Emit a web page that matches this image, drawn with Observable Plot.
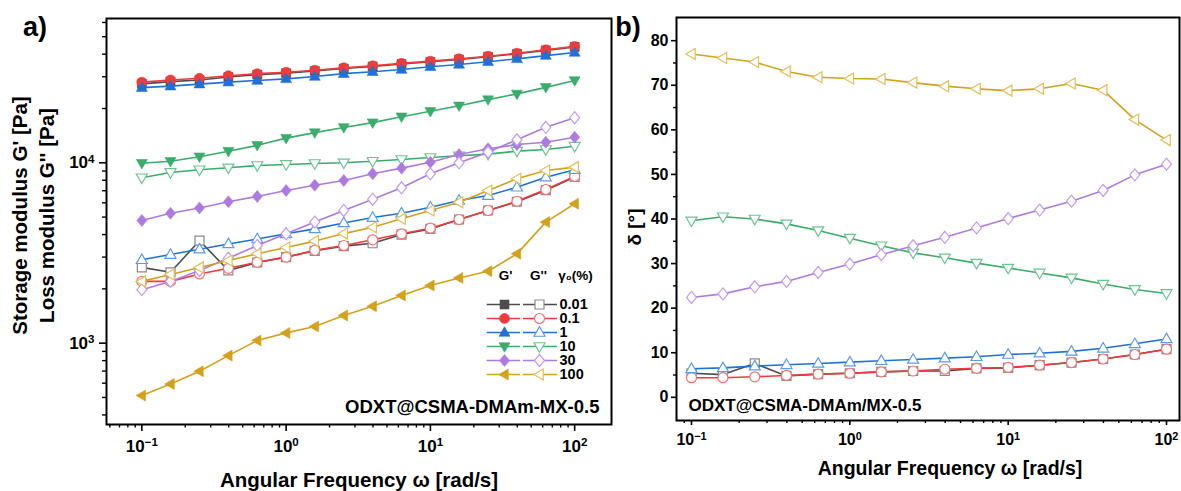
<!DOCTYPE html>
<html><head><meta charset="utf-8">
<script src="https://cdn.jsdelivr.net/npm/d3@7"></script>
<script src="https://cdn.jsdelivr.net/npm/@observablehq/plot@0.6"></script>
<style>
body{margin:0;background:#fff;}
#wrap{position:relative;width:1181px;height:491px;overflow:hidden;font-family:"Liberation Sans",Arial,sans-serif;}
#wrap svg{position:absolute;overflow:visible;}
</style></head><body><div id="wrap"></div>
<script>
// ---- data ----
const freq = [0.1, 0.158, 0.251, 0.398, 0.631, 1, 1.58, 2.51, 3.98, 6.31, 10, 15.8, 25.1, 39.8, 63.1, 100];
const strainLabels = ["0.01", "0.1", "1", "10", "30", "100"];
const lineColors = ["#4d4d4d", "#ee3b3b", "#2170d8", "#3aac6b", "#ad7ae0", "#d3a11b"];
const openColors = ["#8a8a8a", "#f27373", "#5c9be6", "#6dc394", "#c39be9", "#e2bf5a"];

// storage modulus G' [Pa]
const storage001 = [27400, 28200, 28800, 29900, 30800, 31400, 32300, 33300, 34200, 35300, 36300, 37400, 38700, 40200, 42000, 43900];
const storage01  = [28000, 28800, 29400, 30400, 31200, 31800, 32600, 33600, 34500, 35600, 36600, 37700, 39000, 40500, 42300, 44200];
const storage1   = [26100, 26600, 27300, 28000, 28600, 29200, 30100, 31200, 32000, 32900, 34100, 35100, 36300, 37700, 39300, 40900];
const storage10  = [9950, 10200, 10800, 11600, 12500, 13700, 14700, 15700, 16700, 18000, 19300, 20700, 22400, 24100, 26200, 28600];
const storage30  = [4790, 5250, 5620, 6080, 6510, 7020, 7510, 7980, 8690, 9340, 10080, 11110, 11960, 12620, 13000, 13870];
const storage100 = [512, 594, 698, 853, 1035, 1140, 1237, 1423, 1603, 1838, 2087, 2300, 2505, 3127, 4690, 5930];

// loss modulus G'' [Pa]
const loss001 = [2630, 2470, 3700, 2530, 2800, 3000, 3250, 3450, 3580, 4000, 4300, 4850, 5440, 6080, 7050, 8350];
const loss01  = [2200, 2200, 2420, 2600, 2810, 3000, 3270, 3480, 3740, 4040, 4340, 4850, 5440, 6120, 7110, 8400];
const loss1   = [2900, 3100, 3320, 3550, 3780, 4040, 4300, 4640, 4970, 5250, 5670, 6180, 6580, 7320, 8320, 9150];
const loss10  = [8260, 8840, 9150, 9380, 9660, 9790, 9910, 10000, 10200, 10430, 10700, 10940, 11170, 11600, 11850, 12360];
const loss30  = [1980, 2200, 2530, 2960, 3480, 4040, 4690, 5440, 6280, 7270, 8690, 10000, 11450, 13420, 15740, 17780];
const loss100 = [2200, 2400, 2630, 2870, 3130, 3390, 3680, 4050, 4390, 4890, 5440, 6040, 7020, 8150, 9060, 9460];

// phase angle delta [deg]
const delta001 = [5.4, 5.1, 7.6, 4.8, 5.2, 5.4, 5.7, 5.9, 5.9, 6.5, 6.6, 7.2, 7.8, 8.6, 9.6, 10.8];
const delta01  = [4.4, 4.4, 4.6, 4.9, 5.2, 5.4, 5.7, 5.9, 6.3, 6.5, 6.7, 7.2, 7.8, 8.6, 9.6, 10.8];
const delta1   = [6.4, 6.6, 7.0, 7.3, 7.6, 7.9, 8.2, 8.5, 8.8, 9.1, 9.6, 9.9, 10.3, 11.0, 12.0, 13.1];
const delta10  = [39.6, 40.5, 40.0, 38.9, 37.4, 35.7, 34.0, 32.4, 31.3, 30.1, 29.0, 27.9, 26.8, 25.4, 24.2, 23.3];
const delta30  = [22.4, 23.2, 24.8, 26.0, 28.0, 29.9, 32.0, 34.0, 35.9, 38.0, 40.1, 42.0, 44.0, 46.4, 49.9, 52.3];
const delta100 = [77.0, 76.1, 75.2, 73.1, 71.8, 71.5, 71.4, 70.6, 69.8, 69.2, 68.8, 69.2, 70.4, 68.9, 62.3, 57.7];

// ticks
const xMajor = [0.1, 1, 10, 100];
const xMinorA = [0.06, 0.07, 0.08, 0.09, 0.2, 0.3, 0.4, 0.5, 0.6, 0.7, 0.8, 0.9, 2, 3, 4, 5, 6, 7, 8, 9, 20, 30, 40, 50, 60, 70, 80, 90];
const xMinorB = [0.09, 0.2, 0.3, 0.4, 0.5, 0.6, 0.7, 0.8, 0.9, 2, 3, 4, 5, 6, 7, 8, 9, 20, 30, 40, 50, 60, 70, 80, 90];
const yMajorA = [1000, 10000];
const yMinorA = [400, 500, 600, 700, 800, 900, 2000, 3000, 4000, 5000, 6000, 7000, 8000, 9000, 20000, 30000, 40000, 50000, 60000];
const yMajorB = [0, 10, 20, 30, 40, 50, 60, 70, 80];
const yMinorB = [5, 15, 25, 35, 45, 55, 65, 75];

const storageSeries = [storage001, storage01, storage1, storage10, storage30, storage100];
const lossSeries = [loss001, loss01, loss1, loss10, loss30, loss100];
const deltaSeries = [delta001, delta01, delta1, delta10, delta30, delta100];

// ---- symbols ----
function poly(pts) {
  return {draw(ctx, size) {
    const r = Math.sqrt(size / Math.PI);
    ctx.moveTo(pts[0][0] * r, pts[0][1] * r);
    for (let k = 1; k < pts.length; k++) ctx.lineTo(pts[k][0] * r, pts[k][1] * r);
    ctx.closePath();
  }};
}
const symCircle = {draw(ctx, size) { const r = Math.sqrt(size / Math.PI); ctx.moveTo(r, 0); ctx.arc(0, 0, r, 0, 2 * Math.PI); }};
const symSquare = poly([[-0.9, -0.9], [0.9, -0.9], [0.9, 0.9], [-0.9, 0.9]]);
const symTriUp = poly([[0, -1.15], [1.1, 0.75], [-1.1, 0.75]]);
const symTriDown = poly([[0, 1.15], [1.1, -0.75], [-1.1, -0.75]]);
const symDiamond = poly([[0, -1.2], [1, 0], [0, 1.2], [-1, 0]]);
const symTriLeft = poly([[-1.15, 0], [0.75, -1.1], [0.75, 1.1]]);
const symbols = [symSquare, symCircle, symTriUp, symTriDown, symDiamond, symTriLeft];

const FONT = "'Liberation Sans', Arial, sans-serif";
const fmtPow = v => "10^" + Math.round(Math.log10(v));

function supify(svg) {
  svg.querySelectorAll("text").forEach(t => {
    const m = t.textContent.match(/^10\^(-?\d+)$/);
    if (m) {
      t.textContent = "10";
      const ts = document.createElementNS("http://www.w3.org/2000/svg", "tspan");
      ts.setAttribute("dy", "-0.48em");
      ts.setAttribute("font-size", "0.68em");
      ts.textContent = m[1].replace("-", "\u2212");
      t.appendChild(ts);
    }
  });
}
const T = {textAnchor: "middle", lineAnchor: "middle", fontWeight: "bold"};

const wrap = document.getElementById("wrap");

// ---- panel a ----
const marksA = [];
strainLabels.forEach((s, i) => {
  const sp = freq.map((f, j) => ({f, v: storageSeries[i][j]}));
  const lo = freq.map((f, j) => ({f, v: lossSeries[i][j]}));
  marksA.push(Plot.line(sp, {x: "f", y: "v", stroke: lineColors[i], strokeWidth: 1.6}));
  marksA.push(Plot.line(lo, {x: "f", y: "v", stroke: lineColors[i], strokeWidth: 1.6}));
  marksA.push(Plot.dot(sp, {x: "f", y: "v", symbol: symbols[i], r: 5, fill: lineColors[i], stroke: lineColors[i], strokeWidth: 0.6}));
  marksA.push(Plot.dot(lo, {x: "f", y: "v", symbol: symbols[i], r: 5, fill: "white", stroke: openColors[i], strokeWidth: 1.2}));
});

const plotA = Plot.plot({
  width: 620, height: 491,
  marginLeft: 106, marginRight: 9, marginTop: 18, marginBottom: 67,
  style: {fontFamily: FONT, fontWeight: "bold", fontSize: "17px", color: "black", background: "transparent", overflow: "visible"},
  x: {type: "log", domain: [0.0569, 180], label: null},
  y: {type: "log", domain: [354, 63100], label: null},
  marks: [
    ...marksA,
    Plot.frame({stroke: "black", strokeWidth: 2}),
    Plot.axisX({ticks: xMajor, tickSize: 7, tickPadding: 8, tickFormat: fmtPow, fontSize: 17, fontWeight: "bold", strokeWidth: 1.6, label: null}),
    Plot.axisX({ticks: xMinorA, tickSize: 3.5, tickFormat: () => "", strokeWidth: 1.4, label: null}),
    Plot.axisY({ticks: yMajorA, tickSize: 7, tickPadding: 5, tickFormat: fmtPow, fontSize: 17, fontWeight: "bold", strokeWidth: 1.6, label: null}),
    Plot.axisY({ticks: yMinorA, tickSize: 4, tickFormat: () => "", strokeWidth: 1.4, label: null}),
    Plot.text(["ODXT@CSMA-DMAm-MX-0.5"], {...T, text: d => d, frameAnchor: "bottom-right", textAnchor: "end", dx: -12, dy: -17, fontSize: 18.5}),
    Plot.text(["Angular Frequency \u03c9 [rad/s]"], {...T, text: d => d, frameAnchor: "bottom", dy: 56, fontSize: 20.5}),
    Plot.text(["Storage modulus G' [Pa]"], {...T, text: d => d, frameAnchor: "left", rotate: -90, dx: -86, dy: -6, fontSize: 20.5}),
    Plot.text(["Loss modulus G'' [Pa]"], {...T, text: d => d, frameAnchor: "left", rotate: -90, dx: -59, dy: -6, fontSize: 20.5}),
    Plot.text(["a)"], {...T, text: d => d, frameAnchor: "top-left", dx: -71.5, dy: 9, fontSize: 27})
  ]
});
plotA.style.left = "0px"; plotA.style.top = "0px";
supify(plotA);
wrap.appendChild(plotA);

// ---- legend (inside panel a) ----
const legendRows = strainLabels.map((s, i) => ({s, i}));
const legend = Plot.plot({
  width: 150, height: 130, margin: 0,
  style: {fontFamily: FONT, fontWeight: "bold", color: "black", background: "transparent", overflow: "visible"},
  x: {type: "linear", domain: [0, 150], range: [0, 150], axis: null},
  y: {type: "point", domain: strainLabels, range: [32, 121.3], axis: null},
  marks: [
    Plot.ruleY(legendRows, {y: "s", x1: () => 16.7, x2: () => 50, stroke: d => lineColors[d.i], strokeWidth: 1.6}),
    Plot.ruleY(legendRows, {y: "s", x1: () => 53, x2: () => 87, stroke: d => lineColors[d.i], strokeWidth: 1.6}),
    ...legendRows.map(d => Plot.dot([d], {x: () => 34, y: "s", symbol: symbols[d.i], r: 5, fill: lineColors[d.i], stroke: lineColors[d.i], strokeWidth: 0.6})),
    ...legendRows.map(d => Plot.dot([d], {x: () => 69, y: "s", symbol: symbols[d.i], r: 5, fill: "white", stroke: openColors[d.i], strokeWidth: 1.2})),
    Plot.text(legendRows, {x: () => 89, y: "s", text: "s", textAnchor: "start", lineAnchor: "middle", fontSize: 14.5, fontWeight: "bold"}),
    Plot.text(["G'", "G''", "\u03b3\u2080(%)"], {...T, x: (d, k) => [35, 68, 105][k], frameAnchor: "top", dy: 13, text: d => d, fontSize: 13.5})
  ]
});
legend.style.left = "470px"; legend.style.top = "262px";
wrap.appendChild(legend);

// ---- panel b ----
const marksB = [];
strainLabels.forEach((s, i) => {
  const dd = freq.map((f, j) => ({f, v: deltaSeries[i][j]}));
  marksB.push(Plot.line(dd, {x: "f", y: "v", stroke: lineColors[i], strokeWidth: 1.6}));
  marksB.push(Plot.dot(dd, {x: "f", y: "v", symbol: symbols[i], r: 5, fill: "white", stroke: openColors[i], strokeWidth: 1.2}));
});

const plotB = Plot.plot({
  width: 561, height: 491,
  marginLeft: 56, marginRight: 2, marginTop: 17, marginBottom: 71,
  style: {fontFamily: FONT, fontWeight: "bold", fontSize: "16px", color: "black", background: "transparent", overflow: "visible"},
  x: {type: "log", domain: [0.0804, 120.8], label: null},
  y: {type: "linear", domain: [-5.2, 85.2], label: null},
  marks: [
    ...marksB,
    Plot.frame({stroke: "black", strokeWidth: 2}),
    Plot.axisX({ticks: xMajor, tickSize: 5, tickPadding: 8, tickFormat: fmtPow, fontSize: 16, fontWeight: "bold", strokeWidth: 1.6, label: null}),
    Plot.axisX({ticks: xMinorB, tickSize: 3, tickFormat: () => "", strokeWidth: 1.4, label: null}),
    Plot.axisY({ticks: yMajorB, tickSize: 5, tickPadding: 3, fontSize: 16, fontWeight: "bold", strokeWidth: 1.6, label: null}),
    Plot.axisY({ticks: yMinorB, tickSize: 3, tickFormat: () => "", strokeWidth: 1.4, label: null}),
    Plot.text(["ODXT@CSMA-DMAm/MX-0.5"], {...T, text: d => d, frameAnchor: "bottom-left", textAnchor: "start", dx: 12, dy: -15, fontSize: 17}),
    Plot.text(["Angular Frequency \u03c9 [rad/s]"], {...T, text: d => d, frameAnchor: "bottom", dx: 22, dy: 48, fontSize: 19.5}),
    Plot.text(["\u03b4 [\u00b0]"], {...T, text: d => d, frameAnchor: "left", rotate: -90, dx: -42, dy: 8, fontSize: 19}),
    Plot.text(["b)"], {...T, text: d => d, frameAnchor: "top-left", dx: -48.5, dy: 10, fontSize: 27})
  ]
});
plotB.style.left = "620px"; plotB.style.top = "0px";
supify(plotB);
wrap.appendChild(plotB);
</script>
</body></html>
